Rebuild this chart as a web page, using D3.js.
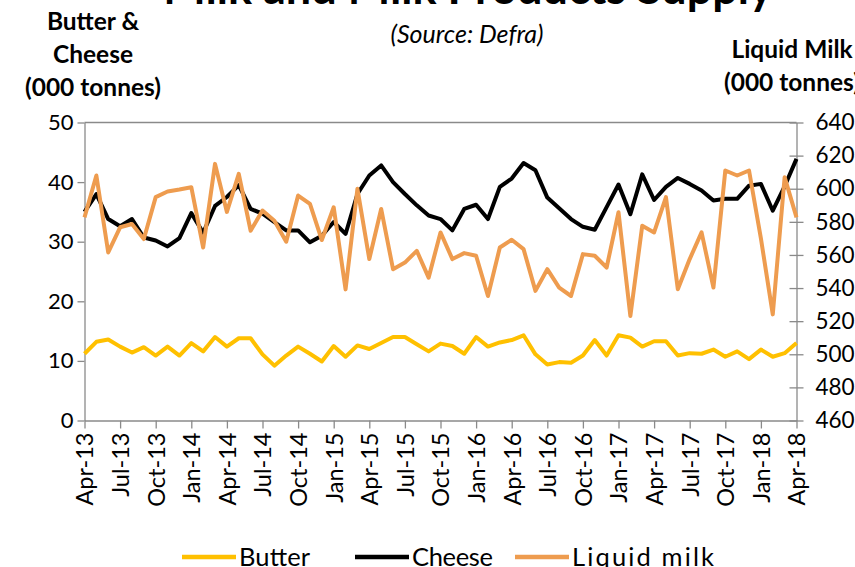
<!DOCTYPE html>
<html><head><meta charset="utf-8">
<script src="https://cdn.jsdelivr.net/npm/d3@7"></script>
<style>
body{margin:0;background:#fff;overflow:hidden}
svg{display:block}
text{font-family:Lato, "Open Sans", sans-serif;fill:#000}
</style>
</head><body>
<svg id="chart" width="855" height="567"></svg>
<script>
const months = ["Apr-13","May-13","Jun-13","Jul-13","Aug-13","Sep-13","Oct-13","Nov-13","Dec-13",
"Jan-14","Feb-14","Mar-14","Apr-14","May-14","Jun-14","Jul-14","Aug-14","Sep-14","Oct-14","Nov-14","Dec-14",
"Jan-15","Feb-15","Mar-15","Apr-15","May-15","Jun-15","Jul-15","Aug-15","Sep-15","Oct-15","Nov-15","Dec-15",
"Jan-16","Feb-16","Mar-16","Apr-16","May-16","Jun-16","Jul-16","Aug-16","Sep-16","Oct-16","Nov-16","Dec-16",
"Jan-17","Feb-17","Mar-17","Apr-17","May-17","Jun-17","Jul-17","Aug-17","Sep-17","Oct-17","Nov-17","Dec-17",
"Jan-18","Feb-18","Mar-18","Apr-18"];
const tickMonths = ["Apr-13","Jul-13","Oct-13","Jan-14","Apr-14","Jul-14","Oct-14","Jan-15","Apr-15","Jul-15",
"Oct-15","Jan-16","Apr-16","Jul-16","Oct-16","Jan-17","Apr-17","Jul-17","Oct-17","Jan-18","Apr-18"];
const butter = [11.2,13.2,13.6,12.4,11.4,12.3,10.9,12.4,10.9,13.0,11.6,
14.0,12.4,13.8,13.8,11.1,9.2,10.9,12.4,11.2,9.9,
12.5,10.7,12.6,12.0,13.0,14.0,14.0,12.8,11.6,12.9,
12.5,11.2,14.0,12.4,13.1,13.5,14.3,11.1,9.4,9.8,
9.7,10.9,13.5,10.9,14.3,13.9,12.4,13.3,13.3,10.9,
11.3,11.2,11.9,10.7,11.6,10.3,11.9,10.7,11.3,13.0];
const cheese = [35.0,38.0,33.8,32.6,33.8,30.7,30.2,29.2,30.6,34.8,31.5,
36.0,37.5,39.5,35.5,34.7,33.3,31.9,31.9,29.9,31.0,
33.3,31.3,38.0,41.1,42.8,40.0,38.0,36.1,34.4,33.8,
31.9,35.5,36.2,33.8,39.2,40.6,43.2,42.0,37.4,35.6,
33.8,32.5,32.0,35.8,39.6,34.6,41.3,37.0,39.2,40.7,
39.7,38.6,36.9,37.2,37.2,39.4,39.7,35.2,39.3,43.9];
const liquidMilk = [582.7,608.0,561.5,576.7,578.7,569.6,594.9,598.3,599.5,600.9,564.5,
615.0,586.0,609.0,574.6,586.8,580.7,568.0,595.9,590.8,569.0,
588.8,539.2,600.0,557.5,587.8,551.4,555.4,562.5,546.3,573.6,
557.5,561.1,559.5,535.2,564.5,569.2,563.5,538.3,551.4,540.3,
535.2,560.5,559.5,552.4,585.8,523.1,577.7,573.6,594.9,539.3,
557.5,573.6,540.3,611.0,608.0,611.0,570.0,524.1,607.0,582.7];
const leftTicks = [0,10,20,30,40,50];
const rightTicks = [460,480,500,520,540,560,580,600,620,640];
const seriesNames = ["Butter","Cheese","Liquid milk"];
const seriesColors = ["#FFC000","#000000","#EE9C4F"];

const svg = d3.select("#chart");
const x0 = 84.5, x1 = 796.5, yTop = 122.5, yBot = 420.5;
const axisColor = "#8a8a8a";

const x = d3.scalePoint().domain(months).range([x0, x1]);
const yL = d3.scaleLinear().domain([0, 50]).range([yBot, yTop]);
const yR = d3.scaleLinear().domain([460, 640]).range([yBot, yTop]);

// top border
svg.append("line").attr("x1", x0).attr("x2", x1).attr("y1", yTop).attr("y2", yTop)
  .attr("stroke", axisColor).attr("stroke-width", 1.3);

// left axis
const gL = svg.append("g").attr("transform", `translate(${x0},0)`)
  .call(d3.axisLeft(yL).tickValues(leftTicks).tickSize(7).tickSizeOuter(0).tickPadding(4));
// right axis
const gR = svg.append("g").attr("transform", `translate(${x1},0)`)
  .call(d3.axisRight(yR).tickValues(rightTicks).tickSize(7).tickSizeOuter(0).tickPadding(12));
gR.selectAll(".tick line").attr("x1", -7).attr("x2", 7);
// bottom axis
const gB = svg.append("g").attr("transform", `translate(0,${yBot})`)
  .call(d3.axisBottom(x).tickValues(tickMonths).tickSize(8).tickSizeOuter(0));
gB.selectAll(".tick text")
  .attr("transform", "rotate(-90)")
  .attr("x", -12).attr("y", 0).attr("dy", "0.36em")
  .style("text-anchor", "end");

[gL, gR, gB].forEach(g => {
  g.select(".domain").attr("stroke", axisColor).attr("stroke-width", 1.3);
  g.selectAll(".tick line").attr("stroke", axisColor).attr("stroke-width", 1.3);
  g.selectAll(".tick text").attr("font-family", "Lato, sans-serif").attr("fill", "#000");
});
gL.selectAll(".tick text").attr("font-size", 22);
gR.selectAll(".tick text").attr("font-size", 22.5);
gB.selectAll(".tick text").attr("font-size", 23.5);

// lines
const lineL = d3.line().x((d, i) => x(months[i])).y(d => yL(d));
const lineR = d3.line().x((d, i) => x(months[i])).y(d => yR(d));
const plot = svg.append("g");
plot.append("path").datum(butter).attr("d", lineL).attr("fill", "none")
  .attr("stroke", seriesColors[0]).attr("stroke-width", 4).attr("stroke-linejoin", "round");
plot.append("path").datum(cheese).attr("d", lineL).attr("fill", "none")
  .attr("stroke", seriesColors[1]).attr("stroke-width", 4).attr("stroke-linejoin", "round");
plot.append("path").datum(liquidMilk).attr("d", lineR).attr("fill", "none")
  .attr("stroke", seriesColors[2]).attr("stroke-width", 4).attr("stroke-linejoin", "round");

// titles
svg.append("text").attr("x", 468).attr("y", 4).attr("text-anchor", "middle")
  .attr("font-size", 45).attr("font-weight", "bold").text("Milk and Milk Products Supply");
svg.append("text").attr("x", 467).attr("y", 43).attr("text-anchor", "middle")
  .attr("font-size", 25).attr("font-style", "italic").text("(Source: Defra)");

const leftTitle = ["Butter &", "Cheese", "(000 tonnes)"];
leftTitle.forEach((t, i) => svg.append("text").attr("x", 93).attr("y", 30 + i * 33)
  .attr("text-anchor", "middle").attr("font-size", 24.5).attr("font-weight", "bold").text(t));
const rightTitle = ["Liquid Milk", "(000 tonnes)"];
rightTitle.forEach((t, i) => svg.append("text").attr("x", 792).attr("y", 58 + i * 33)
  .attr("text-anchor", "middle").attr("font-size", 24.5).attr("font-weight", "bold").text(t));

// legend
const legX = [182, 355, 515];
const legTextLen = [71, 81, 142];
seriesNames.forEach((n, i) => {
  const g = svg.append("g").attr("transform", `translate(${legX[i]},557)`);
  g.append("line").attr("x1", 0).attr("x2", 54).attr("y1", 0).attr("y2", 0)
    .attr("stroke", seriesColors[i]).attr("stroke-width", 4.5);
  g.append("text").attr("x", 57).attr("y", 0).attr("dy", "0.35em")
    .attr("font-size", 25.5).attr("textLength", legTextLen[i])
    .attr("lengthAdjust", "spacing").text(n);
});
</script>
</body></html>
